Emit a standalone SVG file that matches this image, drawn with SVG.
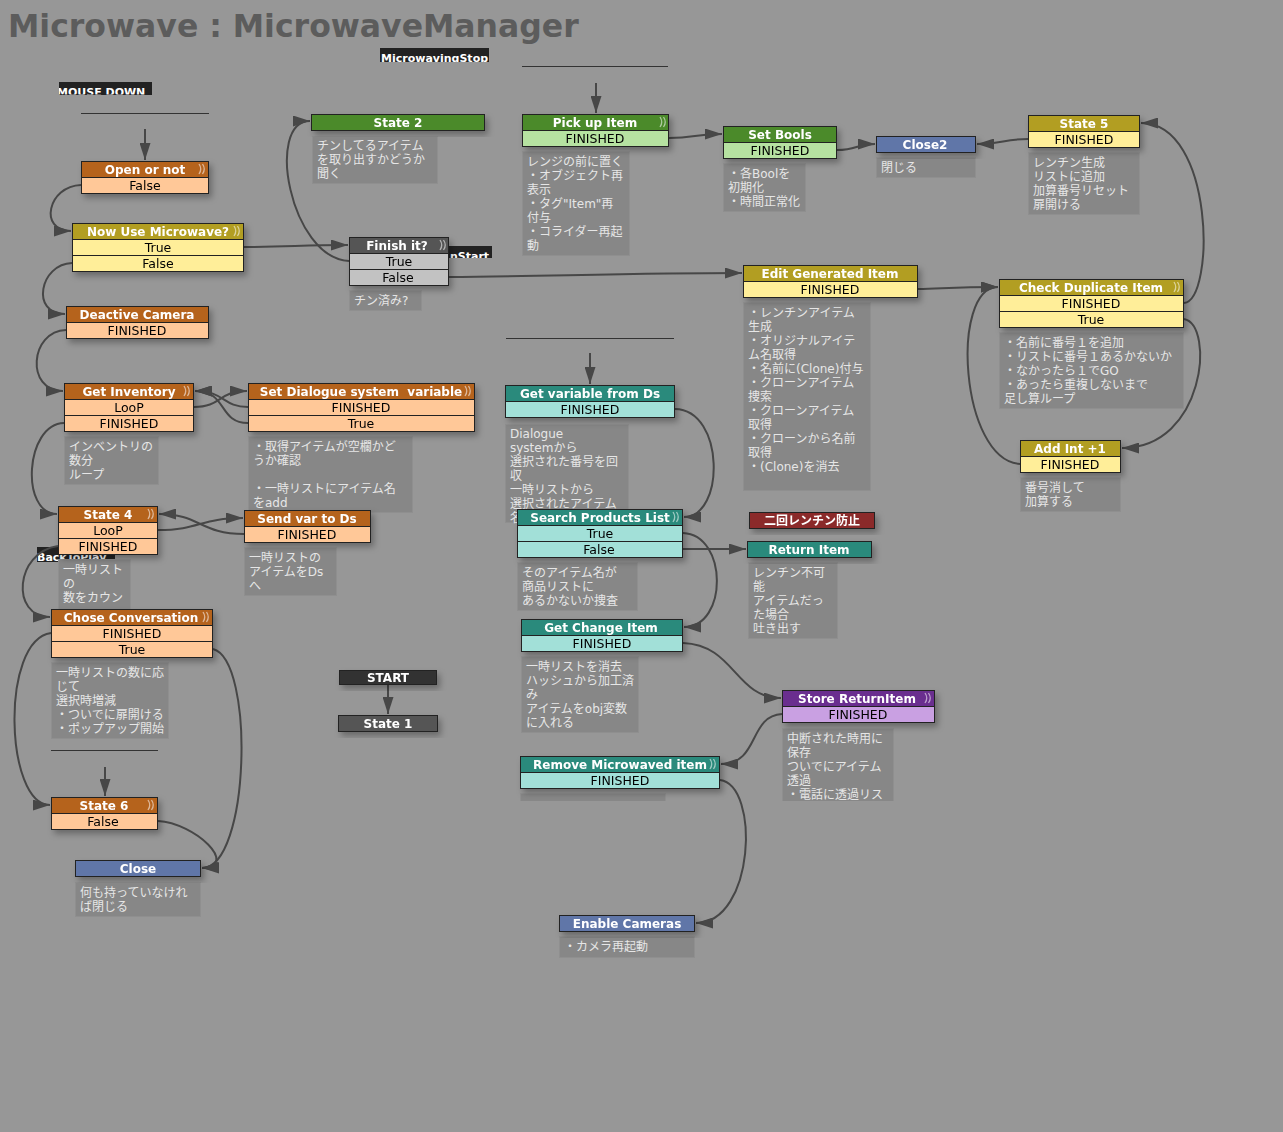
<svg xmlns="http://www.w3.org/2000/svg" width="1283" height="1132" viewBox="0 0 1283 1132">
<defs>
<style>
.hd{font-family:"DejaVu Sans","Noto Sans CJK JP",sans-serif;font-weight:bold;font-size:12px;fill:#fff;text-anchor:middle}
.rw{font-family:"DejaVu Sans",sans-serif;font-size:12.5px;fill:#000;text-anchor:middle}
.cm{font-family:"DejaVu Sans","Noto Sans CJK JP",sans-serif;font-size:12px;fill:#e6e6e6}
.cb{fill:#878787;stroke:#8f8f8f;stroke-width:1}
.lb{font-family:"DejaVu Sans",sans-serif;font-weight:bold;font-size:11px;fill:#fff}
.node rect{stroke:#222;stroke-width:1}
.or-h{fill:#b5631f}.or-r{fill:#ffc898}
.ol-h{fill:#b29e22}.ol-r{fill:#ffee99}
.gr-h{fill:#4b8a2b}.gr-r{fill:#b6e2a1}
.tl-h{fill:#2b8a7b}.tl-r{fill:#a2e0d8}
.bl-h{fill:#6176a8}
.dk-h{fill:#555}.dk-r{fill:#c2c2c2}
.rd-h{fill:#8b2b2b}
.pu-h{fill:#6a2d8f}.pu-r{fill:#c9a0e2}
.st-h{fill:#333}
.cn path{fill:none;stroke:#474747;stroke-width:2}
.sep{stroke:#333;stroke-width:1}
</style>
<filter id="sh" x="-10%" y="-20%" width="130%" height="160%">
<feDropShadow dx="3" dy="4" stdDeviation="3" flood-color="#000" flood-opacity="0.3"/>
</filter>
<marker id="arr" markerWidth="17" markerHeight="11" refX="17" refY="5.5" orient="auto" markerUnits="userSpaceOnUse">
<path d="M0,0 L17,5.5 L0,11 z" fill="#474747"/>
</marker>
<path id="ico" d="M0,0 q3.5,5 0,10 M3.5,0 q3.5,5 0,10" fill="none" stroke="#fff" stroke-opacity="0.55" stroke-width="1.3"/>
<clipPath id="c-mws"><rect x="380" y="48" width="109" height="14"/></clipPath>
<clipPath id="c-md"><rect x="59" y="82" width="93" height="12.5"/></clipPath>
<clipPath id="c-ns"><rect x="449" y="246" width="43" height="12"/></clipPath>
<clipPath id="c-btp"><rect x="37" y="547" width="78" height="15"/></clipPath>
<clipPath id="c-cut"><rect x="0" y="0" width="1283" height="801"/></clipPath>
</defs>

<rect x="0" y="0" width="1283" height="1132" fill="#979797"/>
<text x="8" y="37" font-family="DejaVu Sans, sans-serif" font-weight="bold" font-size="31.5" fill="#5c5c5c">Microwave : MicrowaveManager</text>

<!-- global transition labels -->
<g id="labels">
<rect x="380" y="48" width="109" height="14" fill="#222"/>
<text class="lb" x="381" y="62" clip-path="url(#c-mws)">MicrowavingStop</text>
<rect x="59" y="82" width="93" height="13" fill="#222"/>
<text class="lb" x="57" y="95.5" clip-path="url(#c-md)">MOUSE DOWN</text>
<rect x="449" y="246" width="43" height="12" fill="#222"/>
<text class="lb" x="450" y="260" clip-path="url(#c-ns)">nStart</text>
<rect x="37" y="547" width="78" height="15" fill="#222"/>
<text class="lb" x="37" y="561" clip-path="url(#c-btp)">BackToPlay</text>
<line class="sep" x1="81" y1="113.5" x2="209" y2="113.5"/>
<line class="sep" x1="522" y1="66.5" x2="668" y2="66.5"/>
<line class="sep" x1="506" y1="338.5" x2="674" y2="338.5"/>
<line class="sep" x1="51" y1="750.5" x2="158" y2="750.5"/>
</g>

<!-- comments -->
<g id="comments">
<rect class="cb" x="312.5" y="136.5" width="125" height="47"/>
<text class="cm" x="317" y="150"><tspan x="317">チンしてるアイテム</tspan><tspan x="317" dy="14">を取り出すかどうか</tspan><tspan x="317" dy="14">聞く</tspan></text>
<rect class="cb" x="349.5" y="290.5" width="72" height="20"/>
<text class="cm" x="354" y="305">チン済み?</text>
<rect class="cb" x="522.5" y="151.5" width="107" height="104"/>
<text class="cm" x="527" y="166"><tspan x="527">レンジの前に置く</tspan><tspan x="527" dy="14">・オブジェクト再</tspan><tspan x="527" dy="14">表示</tspan><tspan x="527" dy="14">・タグ"Item"再</tspan><tspan x="527" dy="14">付与</tspan><tspan x="527" dy="14">・コライダー再起</tspan><tspan x="527" dy="14">動</tspan></text>
<rect class="cb" x="723.5" y="163.5" width="82" height="48"/>
<text class="cm" x="728" y="178"><tspan x="728">・各Boolを</tspan><tspan x="728" dy="14">初期化</tspan><tspan x="728" dy="14">・時間正常化</tspan></text>
<rect class="cb" x="876.5" y="157.5" width="99" height="20"/>
<text class="cm" x="881" y="172">閉じる</text>
<rect class="cb" x="1028.5" y="152.5" width="111" height="62"/>
<text class="cm" x="1033" y="167"><tspan x="1033">レンチン生成</tspan><tspan x="1033" dy="14">リストに追加</tspan><tspan x="1033" dy="14">加算番号リセット</tspan><tspan x="1033" dy="14">扉開ける</tspan></text>
<rect class="cb" x="743.5" y="302.5" width="127" height="188"/>
<text class="cm" x="748" y="317"><tspan x="748">・レンチンアイテム</tspan><tspan x="748" dy="14">生成</tspan><tspan x="748" dy="14">・オリジナルアイテ</tspan><tspan x="748" dy="14">ム名取得</tspan><tspan x="748" dy="14">・名前に(Clone)付与</tspan><tspan x="748" dy="14">・クローンアイテム</tspan><tspan x="748" dy="14">捜索</tspan><tspan x="748" dy="14">・クローンアイテム</tspan><tspan x="748" dy="14">取得</tspan><tspan x="748" dy="14">・クローンから名前</tspan><tspan x="748" dy="14">取得</tspan><tspan x="748" dy="14">・(Clone)を消去</tspan></text>
<rect class="cb" x="999.5" y="332.5" width="184" height="76"/>
<text class="cm" x="1004" y="347"><tspan x="1004">・名前に番号１を追加</tspan><tspan x="1004" dy="14">・リストに番号１あるかないか</tspan><tspan x="1004" dy="14">・なかったら１でGO</tspan><tspan x="1004" dy="14">・あったら重複しないまで</tspan><tspan x="1004" dy="14">足し算ループ</tspan></text>
<rect class="cb" x="1020.5" y="477.5" width="100" height="34"/>
<text class="cm" x="1025" y="492"><tspan x="1025">番号消して</tspan><tspan x="1025" dy="14">加算する</tspan></text>
<rect class="cb" x="64.5" y="436.5" width="94" height="48"/>
<text class="cm" x="69" y="451"><tspan x="69">インベントリの</tspan><tspan x="69" dy="14">数分</tspan><tspan x="69" dy="14">ループ</tspan></text>
<rect class="cb" x="248.5" y="436.5" width="164" height="76"/>
<text class="cm" x="253" y="451"><tspan x="253">・取得アイテムが空欄かど</tspan><tspan x="253" dy="14">うか確認</tspan><tspan x="253" dy="28">・一時リストにアイテム名</tspan><tspan x="253" dy="14">をadd</tspan></text>
<rect class="cb" x="244.5" y="547.5" width="92" height="48"/>
<text class="cm" x="249" y="562"><tspan x="249">一時リストの</tspan><tspan x="249" dy="14">アイテムをDs</tspan><tspan x="249" dy="14">へ</tspan></text>
<rect class="cb" x="58.5" y="559.5" width="72" height="55"/>
<text class="cm" x="63" y="574"><tspan x="63">一時リスト</tspan><tspan x="63" dy="14">の</tspan><tspan x="63" dy="14">数をカウン</tspan></text>
<rect class="cb" x="51.5" y="662.5" width="117" height="76"/>
<text class="cm" x="56" y="677"><tspan x="56">一時リストの数に応</tspan><tspan x="56" dy="14">じて</tspan><tspan x="56" dy="14">選択時増減</tspan><tspan x="56" dy="14">・ついでに扉開ける</tspan><tspan x="56" dy="14">・ポップアップ開始</tspan></text>
<rect class="cb" x="75.5" y="882.5" width="125" height="34"/>
<text class="cm" x="80" y="897"><tspan x="80">何も持っていなけれ</tspan><tspan x="80" dy="14">ば閉じる</tspan></text>
<rect class="cb" x="505.5" y="424.5" width="123" height="98"/>
<text class="cm" x="510" y="438"><tspan x="510">Dialogue</tspan><tspan x="510" dy="14">systemから</tspan><tspan x="510" dy="14">選択された番号を回</tspan><tspan x="510" dy="14">収</tspan><tspan x="510" dy="14">一時リストから</tspan><tspan x="510" dy="14">選択されたアイテム</tspan><tspan x="510" dy="14">名</tspan></text>
<rect class="cb" x="517.5" y="562.5" width="120" height="48"/>
<text class="cm" x="522" y="577"><tspan x="522">そのアイテム名が</tspan><tspan x="522" dy="14">商品リストに</tspan><tspan x="522" dy="14">あるかないか捜査</tspan></text>
<rect class="cb" x="748.5" y="562.5" width="89" height="76"/>
<text class="cm" x="753" y="577"><tspan x="753">レンチン不可</tspan><tspan x="753" dy="14">能</tspan><tspan x="753" dy="14">アイテムだっ</tspan><tspan x="753" dy="14">た場合</tspan><tspan x="753" dy="14">吐き出す</tspan></text>
<rect class="cb" x="521.5" y="656.5" width="117" height="76"/>
<text class="cm" x="526" y="671"><tspan x="526">一時リストを消去</tspan><tspan x="526" dy="14">ハッシュから加工済</tspan><tspan x="526" dy="14">み</tspan><tspan x="526" dy="14">アイテムをobj変数</tspan><tspan x="526" dy="14">に入れる</tspan></text>
<g clip-path="url(#c-cut)">
<rect class="cb" x="782.5" y="728.5" width="111" height="80"/>
<text class="cm" x="787" y="743"><tspan x="787">中断された時用に</tspan><tspan x="787" dy="14">保存</tspan><tspan x="787" dy="14">ついでにアイテム</tspan><tspan x="787" dy="14">透過</tspan><tspan x="787" dy="14">・電話に透過リス</tspan></text>
<rect class="cb" x="520.5" y="793.5" width="145" height="20"/>
</g>
<rect class="cb" x="559.5" y="936.5" width="135" height="21"/>
<text class="cm" x="564" y="951">・カメラ再起動</text>
</g>

<!-- connectors -->
<g id="connectors" class="cn">
<path marker-end="url(#arr)" d="M145,129 L145,160"/>
<path marker-end="url(#arr)" d="M596,83 L596,113"/>
<path marker-end="url(#arr)" d="M590,353 L590,384"/>
<path marker-end="url(#arr)" d="M105,767 L105,796"/>
<path marker-end="url(#arr)" d="M388,685 L388,714"/>
<path marker-end="url(#arr)" d="M81,185 C48,186 38,231 71,231"/>
<path marker-end="url(#arr)" d="M244,247 C290,247 300,245 348,245"/>
<path marker-end="url(#arr)" d="M72,263 C40,264 30,314 65,314"/>
<path marker-end="url(#arr)" d="M66,330 C30,331 25,391 63,391"/>
<path marker-end="url(#arr)" d="M194,407 C222,407 218,391 247,391"/>
<path marker-end="url(#arr)" d="M248,407 C222,407 225,391 195,391"/>
<path marker-end="url(#arr)" d="M248,423 C218,423 228,391 195,391"/>
<path marker-end="url(#arr)" d="M64,423 C25,424 20,514 57,514"/>
<path marker-end="url(#arr)" d="M158,530 C200,530 200,518 243,518"/>
<path marker-end="url(#arr)" d="M244,534 C200,534 200,514 159,514"/>
<path marker-end="url(#arr)" d="M58,546 C15,552 10,617 50,617"/>
<path marker-end="url(#arr)" d="M51,633 C0,640 5,805 50,805"/>
<path marker-end="url(#arr)" d="M213,649 C255,660 250,868 202,868"/>
<path marker-end="url(#arr)" d="M158,821 C195,823 240,866 202,868"/>
<path marker-end="url(#arr)" d="M349,261 C290,258 265,121 310,121"/>
<path marker-end="url(#arr)" d="M449,277 C550,276 640,273 742,273"/>
<path marker-end="url(#arr)" d="M669,138 C695,138 695,134 722,134"/>
<path marker-end="url(#arr)" d="M837,150 C858,150 855,144 875,144"/>
<path marker-end="url(#arr)" d="M1028,139 C1003,139 1003,144 977,144"/>
<path marker-end="url(#arr)" d="M918,289 C950,288 960,287 998,287"/>
<path marker-end="url(#arr)" d="M1184,303 C1215,300 1215,123 1141,123"/>
<path marker-end="url(#arr)" d="M1184,319 C1215,325 1205,448 1122,448"/>
<path marker-end="url(#arr)" d="M1020,464 C960,460 950,287 998,287"/>
<path marker-end="url(#arr)" d="M675,409 C725,410 725,517 684,517"/>
<path marker-end="url(#arr)" d="M683,533 C728,535 728,627 684,627"/>
<path marker-end="url(#arr)" d="M683,549 L746,549"/>
<path marker-end="url(#arr)" d="M683,643 C735,645 735,698 781,698"/>
<path marker-end="url(#arr)" d="M782,714 C748,716 760,764 721,764"/>
<path marker-end="url(#arr)" d="M720,780 C760,785 755,923 696,923"/>
</g>

<!-- nodes -->
<g id="n-open-or-not" class="node" filter="url(#sh)">
<rect class="or-h" x="81.5" y="161.5" width="127" height="16"/><rect class="or-r" x="81.5" y="177.5" width="127" height="16"/>
<text class="hd" x="145" y="174">Open or not</text><text class="rw" x="145" y="190">False</text><use href="#ico" x="199" y="164"/>
</g>
<g id="n-now-use" class="node" filter="url(#sh)">
<rect class="ol-h" x="72.5" y="223.5" width="171" height="16"/><rect class="ol-r" x="72.5" y="239.5" width="171" height="16"/><rect class="ol-r" x="72.5" y="255.5" width="171" height="16"/>
<text class="hd" x="158" y="236">Now Use Microwave?</text><text class="rw" x="158" y="252">True</text><text class="rw" x="158" y="268">False</text><use href="#ico" x="234" y="226"/>
</g>
<g id="n-deactive-camera" class="node" filter="url(#sh)">
<rect class="or-h" x="66.5" y="306.5" width="142" height="16"/><rect class="or-r" x="66.5" y="322.5" width="142" height="16"/>
<text class="hd" x="137" y="319">Deactive Camera</text><text class="rw" x="137" y="335">FINISHED</text>
</g>
<g id="n-get-inventory" class="node" filter="url(#sh)">
<rect class="or-h" x="64.5" y="383.5" width="129" height="16"/><rect class="or-r" x="64.5" y="399.5" width="129" height="16"/><rect class="or-r" x="64.5" y="415.5" width="129" height="16"/>
<text class="hd" x="129" y="396">Get Inventory</text><text class="rw" x="129" y="412">LooP</text><text class="rw" x="129" y="428">FINISHED</text><use href="#ico" x="184" y="386"/>
</g>
<g id="n-set-dialogue" class="node" filter="url(#sh)">
<rect class="or-h" x="248.5" y="383.5" width="226" height="16"/><rect class="or-r" x="248.5" y="399.5" width="226" height="16"/><rect class="or-r" x="248.5" y="415.5" width="226" height="16"/>
<text class="hd" x="361" y="396" style="white-space:pre">Set Dialogue system  variable</text><text class="rw" x="361" y="412">FINISHED</text><text class="rw" x="361" y="428">True</text><use href="#ico" x="465" y="386"/>
</g>
<g id="n-state4" class="node" filter="url(#sh)">
<rect class="or-h" x="58.5" y="506.5" width="99" height="16"/><rect class="or-r" x="58.5" y="522.5" width="99" height="16"/><rect class="or-r" x="58.5" y="538.5" width="99" height="16"/>
<text class="hd" x="108" y="519">State 4</text><text class="rw" x="108" y="535">LooP</text><text class="rw" x="108" y="551">FINISHED</text><use href="#ico" x="148" y="509"/>
</g>
<g id="n-send-var" class="node" filter="url(#sh)">
<rect class="or-h" x="244.5" y="510.5" width="126" height="16"/><rect class="or-r" x="244.5" y="526.5" width="126" height="16"/>
<text class="hd" x="307" y="523">Send var to Ds</text><text class="rw" x="307" y="539">FINISHED</text>
</g>
<g id="n-chose-conversation" class="node" filter="url(#sh)">
<rect class="or-h" x="51.5" y="609.5" width="161" height="16"/><rect class="or-r" x="51.5" y="625.5" width="161" height="16"/><rect class="or-r" x="51.5" y="641.5" width="161" height="16"/>
<text class="hd" x="131" y="622">Chose Conversation</text><text class="rw" x="132" y="638">FINISHED</text><text class="rw" x="132" y="654">True</text><use href="#ico" x="203" y="612"/>
</g>
<g id="n-state6" class="node" filter="url(#sh)">
<rect class="or-h" x="51.5" y="797.5" width="106" height="16"/><rect class="or-r" x="51.5" y="813.5" width="106" height="16"/>
<text class="hd" x="104" y="810">State 6</text><text class="rw" x="103" y="826">False</text><use href="#ico" x="148" y="800"/>
</g>
<g id="n-close" class="node" filter="url(#sh)">
<rect class="bl-h" x="75.5" y="860.5" width="125" height="16"/>
<text class="hd" x="138" y="873">Close</text>
</g>
<g id="n-start" class="node" filter="url(#sh)">
<rect class="st-h" x="339.5" y="670.5" width="97" height="14"/>
<text class="hd" x="388" y="682">START</text>
</g>
<g id="n-state1" class="node" filter="url(#sh)">
<rect class="dk-h" x="338.5" y="715.5" width="99" height="16"/>
<text class="hd" x="388" y="728">State 1</text>
</g>
<g id="n-state2" class="node" filter="url(#sh)">
<rect class="gr-h" x="311.5" y="114.5" width="173" height="16"/>
<text class="hd" x="398" y="127">State 2</text>
</g>
<g id="n-finish-it" class="node" filter="url(#sh)">
<rect class="dk-h" x="349.5" y="237.5" width="99" height="16"/><rect class="dk-r" x="349.5" y="253.5" width="99" height="16"/><rect class="dk-r" x="349.5" y="269.5" width="99" height="16"/>
<text class="hd" x="397" y="250">Finish it?</text><text class="rw" x="399" y="266">True</text><text class="rw" x="398" y="282">False</text><use href="#ico" x="440" y="240"/>
</g>
<g id="n-pick-up" class="node" filter="url(#sh)">
<rect class="gr-h" x="522.5" y="114.5" width="146" height="16"/><rect class="gr-r" x="522.5" y="130.5" width="146" height="16"/>
<text class="hd" x="595" y="127">Pick up Item</text><text class="rw" x="595" y="143">FINISHED</text><use href="#ico" x="660" y="117"/>
</g>
<g id="n-set-bools" class="node" filter="url(#sh)">
<rect class="gr-h" x="723.5" y="126.5" width="113" height="16"/><rect class="gr-r" x="723.5" y="142.5" width="113" height="16"/>
<text class="hd" x="780" y="139">Set Bools</text><text class="rw" x="780" y="155">FINISHED</text>
</g>
<g id="n-close2" class="node" filter="url(#sh)">
<rect class="bl-h" x="876.5" y="136.5" width="99" height="16"/>
<text class="hd" x="925" y="149">Close2</text>
</g>
<g id="n-state5" class="node" filter="url(#sh)">
<rect class="ol-h" x="1028.5" y="115.5" width="111" height="16"/><rect class="ol-r" x="1028.5" y="131.5" width="111" height="16"/>
<text class="hd" x="1084" y="128">State 5</text><text class="rw" x="1084" y="144">FINISHED</text>
</g>
<g id="n-edit-generated" class="node" filter="url(#sh)">
<rect class="ol-h" x="743.5" y="265.5" width="174" height="16"/><rect class="ol-r" x="743.5" y="281.5" width="174" height="16"/>
<text class="hd" x="830" y="278">Edit Generated Item</text><text class="rw" x="830" y="294">FINISHED</text>
</g>
<g id="n-check-duplicate" class="node" filter="url(#sh)">
<rect class="ol-h" x="999.5" y="279.5" width="184" height="16"/><rect class="ol-r" x="999.5" y="295.5" width="184" height="16"/><rect class="ol-r" x="999.5" y="311.5" width="184" height="16"/>
<text class="hd" x="1091" y="292">Check Duplicate Item</text><text class="rw" x="1091" y="308">FINISHED</text><text class="rw" x="1091" y="324">True</text><use href="#ico" x="1174" y="282"/>
</g>
<g id="n-add-int" class="node" filter="url(#sh)">
<rect class="ol-h" x="1020.5" y="440.5" width="100" height="16"/><rect class="ol-r" x="1020.5" y="456.5" width="100" height="16"/>
<text class="hd" x="1070" y="453">Add Int +1</text><text class="rw" x="1070" y="469">FINISHED</text>
</g>
<g id="n-get-variable" class="node" filter="url(#sh)">
<rect class="tl-h" x="505.5" y="385.5" width="169" height="16"/><rect class="tl-r" x="505.5" y="401.5" width="169" height="16"/>
<text class="hd" x="590" y="398">Get variable from Ds</text><text class="rw" x="590" y="414">FINISHED</text>
</g>
<g id="n-search-products" class="node" filter="url(#sh)">
<rect class="tl-h" x="517.5" y="509.5" width="165" height="16"/><rect class="tl-r" x="517.5" y="525.5" width="165" height="16"/><rect class="tl-r" x="517.5" y="541.5" width="165" height="16"/>
<text class="hd" x="600" y="522">Search Products List</text><text class="rw" x="600" y="538">True</text><text class="rw" x="599" y="554">False</text><use href="#ico" x="673" y="512"/>
</g>
<g id="n-nikai" class="node" filter="url(#sh)">
<rect class="rd-h" x="749.5" y="512.5" width="125" height="16"/>
<text class="hd" x="812" y="525">二回レンチン防止</text>
</g>
<g id="n-return-item" class="node" filter="url(#sh)">
<rect class="tl-h" x="747.5" y="541.5" width="124" height="16"/>
<text class="hd" x="809" y="554">Return Item</text>
</g>
<g id="n-get-change" class="node" filter="url(#sh)">
<rect class="tl-h" x="521.5" y="619.5" width="161" height="16"/><rect class="tl-r" x="521.5" y="635.5" width="161" height="16"/>
<text class="hd" x="601" y="632">Get Change Item</text><text class="rw" x="602" y="648">FINISHED</text>
</g>
<g id="n-store-return" class="node" filter="url(#sh)">
<rect class="pu-h" x="782.5" y="690.5" width="152" height="16"/><rect class="pu-r" x="782.5" y="706.5" width="152" height="16"/>
<text class="hd" x="857" y="703">Store ReturnItem</text><text class="rw" x="858" y="719">FINISHED</text><use href="#ico" x="925" y="693"/>
</g>
<g id="n-remove-microwaved" class="node" filter="url(#sh)">
<rect class="tl-h" x="520.5" y="756.5" width="199" height="16"/><rect class="tl-r" x="520.5" y="772.5" width="199" height="16"/>
<text class="hd" x="620" y="769">Remove Microwaved item</text><text class="rw" x="620" y="785">FINISHED</text><use href="#ico" x="710" y="759"/>
</g>
<g id="n-enable-cameras" class="node" filter="url(#sh)">
<rect class="bl-h" x="559.5" y="915.5" width="135" height="16"/>
<text class="hd" x="627" y="928">Enable Cameras</text>
</g>
</svg>
